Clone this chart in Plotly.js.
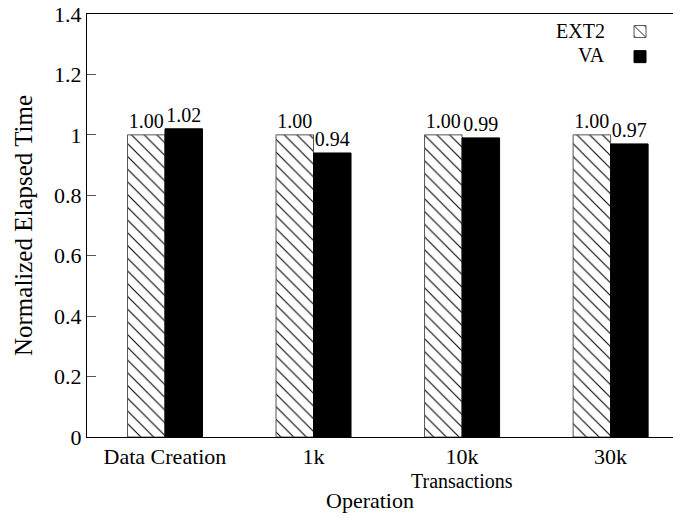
<!DOCTYPE html>
<html>
<head>
<meta charset="utf-8">
<script src="https://cdn.plot.ly/plotly-3.0.1.min.js"></script>
<style>html,body{margin:0;padding:0;background:#fff;}#chart{width:673px;height:520px;}</style>
</head>
<body>
<div id="chart"></div>
<script>
const categories = ["Data Creation", "1k", "10k", "30k"];
const tickLabels = ["Data Creation", "1k", "10k", "30k"];
const groupLabel = "Transactions";
const groupLabelCategory = "10k";
const xTitle = "Operation";
const yTitle = "Normalized Elapsed Time";
const seriesNames = ["EXT2", "VA"];
const ext2Values = [1.00, 1.00, 1.00, 1.00];
const vaValues = [1.02, 0.94, 0.99, 0.97];
const yTicks = [0, 0.2, 0.4, 0.6, 0.8, 1, 1.2, 1.4];

const serif = "Liberation Serif";

const traces = [
  {
    type: "bar", x: categories, y: ext2Values, name: "",
    text: ext2Values.map(v => v.toFixed(2)), textposition: "outside",
    textfont: {family: serif, size: 20, color: "#000"}, cliponaxis: false,
    marker: {color: "#fff", line: {color: "#555", width: 1},
      pattern: {shape: "\\", fgcolor: "#000", bgcolor: "#fff", size: 9, solidity: 0.12}},
    hoverinfo: "skip"
  },
  {
    type: "bar", x: categories, y: vaValues, name: "",
    text: vaValues.map(v => v.toFixed(2)), textposition: "outside",
    textfont: {family: serif, size: 20, color: "#000"}, cliponaxis: false,
    marker: {color: "#000", line: {color: "#000", width: 1}},
    hoverinfo: "skip"
  }
];

const layout = {
  width: 673, height: 520,
  margin: {l: 87, r: 0, t: 14, b: 83},
  paper_bgcolor: "#fff", plot_bgcolor: "#fff",
  font: {family: serif, size: 22, color: "#000"},
  barmode: "group", bargap: 0.495, bargroupgap: 0,
  showlegend: true,
  legend: {x: 0.9096, xanchor: "left", y: 1, yanchor: "top", bgcolor: "rgba(0,0,0,0)",
    font: {family: serif, size: 17}, tracegroupgap: 0, itemwidth: 30},
  xaxis: {
    type: "category", range: [-0.525, 3.42],
    tickvals: categories, ticktext: tickLabels,
    showline: true, linecolor: "#000", linewidth: 1, mirror: true,
    ticks: "", showgrid: false, zeroline: false,
    tickfont: {family: serif, size: 22}
  },
  yaxis: {
    range: [0, 1.4], tickvals: yTicks, ticktext: yTicks.map(String),
    showline: true, linecolor: "#000", linewidth: 1, mirror: false,
    ticks: "inside", ticklen: 9, tickcolor: "#555",
    showgrid: false, zeroline: false,
    tickfont: {family: serif, size: 22},
    title: {text: yTitle, font: {family: serif, size: 25}, standoff: 14}
  },
  annotations: [
    {xref: "paper", yref: "paper", x: 0.887, y: 0.960, xanchor: "right", yanchor: "middle",
      text: seriesNames[0], showarrow: false, font: {family: serif, size: 20}},
    {xref: "paper", yref: "paper", x: 0.887, y: 0.903, xanchor: "right", yanchor: "middle",
      text: seriesNames[1], showarrow: false, font: {family: serif, size: 20}},
    {xref: "x", yref: "paper", x: groupLabelCategory, y: -0.103, xanchor: "center", yanchor: "middle",
      text: groupLabel, showarrow: false, font: {family: serif, size: 20}},
    {xref: "paper", yref: "paper", x: 0.483, y: -0.151, xanchor: "center", yanchor: "middle",
      text: xTitle, showarrow: false, font: {family: serif, size: 22}}
  ]
};

Plotly.newPlot("chart", traces, layout, {displayModeBar: false, staticPlot: true});
</script>
</body>
</html>
